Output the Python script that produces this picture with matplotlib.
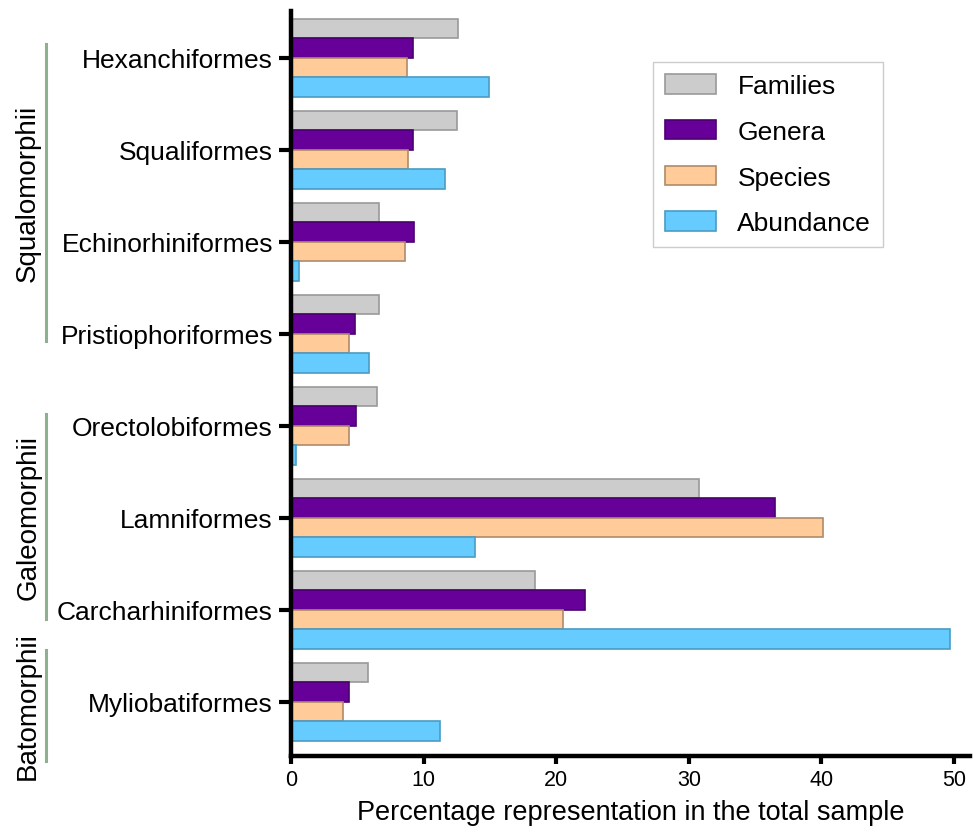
import matplotlib.pyplot as plt
import numpy as np

plt.rcParams['font.family'] = ['Liberation Sans', 'DejaVu Sans']

orders = ['Hexanchiformes', 'Squaliformes', 'Echinorhiniformes', 'Pristiophoriformes',
          'Orectolobiformes', 'Lamniformes', 'Carcharhiniformes', 'Myliobatiformes']
families = [12.6, 12.5, 6.6, 6.6, 6.45, 30.8, 18.4, 5.8]
genera = [9.2, 9.2, 9.3, 4.85, 4.9, 36.5, 22.2, 4.4]
species = [8.75, 8.85, 8.6, 4.4, 4.4, 40.1, 20.5, 3.9]
abundance = [14.9, 11.6, 0.6, 5.9, 0.35, 13.9, 49.7, 11.2]
series_names = ['Families', 'Genera', 'Species', 'Abundance']

# superorders: name, index of first and last order
groups = [('Squalomorphii', 0, 3), ('Galeomorphii', 4, 6), ('Batomorphii', 7, 7)]
# how far each bracket reaches above first / below last order (in category units)
bracket_ext = [(0.15, 0.08), (0.13, 0.10), (0.56, 0.64)]

fill = ['#cccccc', '#660099', '#ffcc99', '#66ccff']
edge = ['#999999', '#4b0070', '#b08a6a', '#4a9cc4']

fig = plt.figure(figsize=(9.74, 8.28), dpi=100)
ax = fig.add_axes([0.2988, 0.0857, 0.697, 0.8998])

n = len(orders)
y = np.arange(n)[::-1].astype(float)
h = 0.212
data = [families, genera, species, abundance]
for i, vals in enumerate(data):
    ax.barh(y + (1.5 - i) * h, vals, height=h, color=fill[i], edgecolor=edge[i],
            linewidth=1.2, label=series_names[i])

ax.set_ylim(-0.59, n - 1 + 0.51)
ax.set_xlim(0, 51.2)
ax.set_yticks(y)
ax.set_yticklabels(orders, fontsize=19)
ax.set_xticks([0, 10, 20, 30, 40, 50])
ax.tick_params(axis='x', labelsize=15.5, length=6, width=3, pad=3)
ax.tick_params(axis='y', length=9, width=3, pad=4)
ax.spines['top'].set_visible(False)
ax.spines['right'].set_visible(False)
for s in ['left', 'bottom']:
    ax.spines[s].set_linewidth(3.2)
ax.set_xlabel('Percentage representation in the total sample', fontsize=19.5, labelpad=7)

leg = ax.legend(loc='upper right', bbox_to_anchor=(0.872, 0.931), fontsize=19,
                handlelength=1.95, handleheight=0.76, labelspacing=0.82,
                borderpad=0.45, borderaxespad=0, handletextpad=0.8,
                fancybox=False, framealpha=1)
leg.get_frame().set_edgecolor('#cccccc')
leg.get_frame().set_linewidth(1.0)

# group brackets on the left
to_fig = fig.transFigure.inverted()
for (name, a, b), (up, down) in zip(groups, bracket_ext):
    p0 = to_fig.transform(ax.transData.transform((0, y[a] + up)))
    p1 = to_fig.transform(ax.transData.transform((0, y[b] - down)))
    fig.add_artist(plt.Line2D([0.047, 0.047], [p0[1], p1[1]], color='#8fb08f', lw=2.2))
    fig.text(0.029, (p0[1] + p1[1]) / 2, name, rotation=90, ha='center', va='center',
             fontsize=20)

fig.savefig('out.png', dpi=100)
